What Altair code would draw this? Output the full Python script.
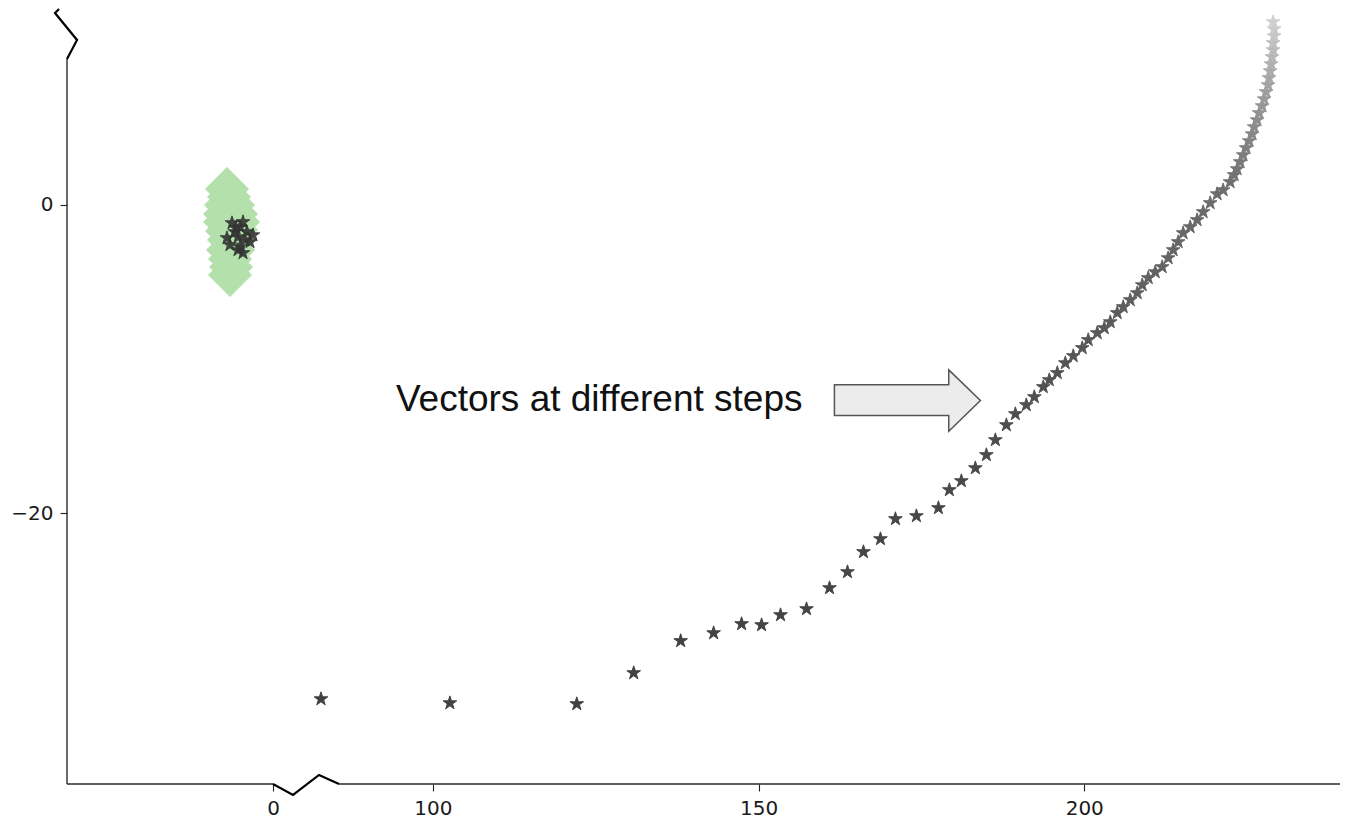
import altair as alt
import pandas as pd

# ---- data (axis units; x axis is broken between ~5 and ~80) ----
step_x = [82.82, 102.61, 122.09, 130.83, 138.04, 143.10, 147.39, 150.46, 153.37, 157.36,
          160.89, 163.65, 166.10, 168.71, 171.01, 174.23, 177.61, 179.29, 181.13, 183.28,
          184.97, 186.35, 188.04, 189.42, 191.10, 192.33, 193.71, 194.63, 195.86, 197.09,
          198.31, 199.69, 200.61, 201.99, 203.07, 203.99, 205.06, 205.98, 207.06, 208.13,
          208.90, 209.82, 210.89, 211.96, 212.88, 213.65, 214.42, 215.18, 216.26, 217.33,
          218.25, 219.33, 220.40, 221.32, 222.39, 223.01, 223.47, 223.93, 224.39, 224.85,
          225.31, 225.77, 226.07, 226.53, 226.84, 227.30, 227.61, 227.91, 228.22, 228.37,
          228.53, 228.68, 228.83, 228.99, 228.99, 229.14, 229.14, 228.99]
step_y = [-32.04, -32.30, -32.36, -30.35, -28.27, -27.76, -27.17, -27.24, -26.59, -26.20,
          -24.84, -23.80, -22.50, -21.66, -20.36, -20.17, -19.65, -18.48, -17.90, -17.06,
          -16.21, -15.24, -14.27, -13.55, -12.97, -12.45, -11.80, -11.35, -10.89, -10.25,
          -9.79, -9.27, -8.75, -8.30, -7.98, -7.59, -7.00, -6.61, -6.16, -5.71,
          -5.19, -4.73, -4.35, -4.02, -3.44, -2.92, -2.40, -1.82, -1.43, -0.97,
          -0.45, 0.13, 0.71, 0.97, 1.49, 1.95, 2.33, 2.79, 3.24, 3.70,
          4.15, 4.60, 5.06, 5.51, 5.97, 6.42, 6.87, 7.33, 7.78, 8.24,
          8.69, 9.14, 9.60, 10.05, 10.51, 10.96, 11.41, 11.87]

cluster_x = [-6.29, -5.06, -3.99, -7.06, -5.37, -3.53, -5.06, -5.37, -4.29, -5.83,
             -4.60, -3.07, -6.60, -4.60, -5.67]
cluster_y = [-1.17, -1.43, -1.75, -2.14, -2.08, -2.40, -2.72, -2.92, -2.27, -1.75,
             -1.10, -1.95, -2.59, -3.11, -1.49]

blob_x = [-7.06, -6.75, -7.21, -6.13, -7.36, -5.67, -7.36, -5.37, -6.44, -7.06,
          -5.67, -6.75, -5.98, -6.90, -6.13, -6.60, -6.44, -6.60]
blob_y = [1.04, 0.52, 0.00, 0.00, -0.58, -0.58, -1.10, -1.10, -1.10, -1.69,
          -1.62, -2.27, -2.27, -2.92, -2.92, -3.50, -4.02, -4.54]

x_ticks = [0, 100, 150, 200]
y_ticks = [0, -20]
annotation = "Vectors at different steps"

# axis geometry (data units)
X_DOMAIN = [-31.60, 4.91, 80.52, 239.26]
Y_DOMAIN = [-37.55, 9.468]

STAR = ("M0,-1 L0.2245,-0.309 L0.9511,-0.309 L0.3633,0.118 L0.5878,0.809 L0,0.382 "
        "L-0.5878,0.809 L-0.3633,0.118 L-0.9511,-0.309 L-0.2245,-0.309 Z")
ARROW = "M-1,-0.215 L0.566,-0.215 L0.566,-0.42 L1,0 L0.566,0.42 L0.566,0.205 L-1,0.205 Z"

steps = pd.DataFrame({"x": step_x, "y": step_y, "step": list(range(1, len(step_x) + 1))})
cluster = pd.DataFrame({"x": cluster_x, "y": cluster_y})
blob = pd.DataFrame({"x": blob_x, "y": blob_y})

xscale = alt.Scale(domain=X_DOMAIN, range=[0, 238, 239, 1273], nice=False, zero=False)
yscale = alt.Scale(domain=Y_DOMAIN, nice=False, zero=False)

common_axis = dict(domain=False, grid=False, title=None, tickSize=7,
                   tickColor="#222", tickWidth=1.1, labelPadding=7, labelFont="DejaVu Sans",
                   labelFontSize=20, labelColor="#1a1a1a", labelFlush=False, labelOverlap=False)
xax = alt.Axis(values=x_ticks, orient="bottom", **common_axis)
yax = alt.Axis(values=y_ticks, orient="left", **common_axis)

def enc(with_axis=False):
    if with_axis:
        return dict(x=alt.X("x:Q", scale=xscale, axis=xax), y=alt.Y("y:Q", scale=yscale, axis=yax))
    return dict(x=alt.X("x:Q", scale=xscale), y=alt.Y("y:Q", scale=yscale))

blob_layer = alt.Chart(blob).mark_point(shape="diamond", filled=True, size=1936,
                                        color="#b3e0ab", opacity=1).encode(**enc(True))

cluster_layer = alt.Chart(cluster).mark_point(shape=STAR, filled=True, size=205,
                                              fill="#333333", stroke="#333333", strokeWidth=1,
                                              opacity=0.9).encode(**enc())

star_color = alt.Color("step:Q", legend=None,
                       scale=alt.Scale(domain=[1, 20, 55, 63, 70, 78],
                                       range=["#404040", "#4a4a4a", "#6e6e6e", "#8a8a8a", "#a6a6a6", "#d0d0d0"],
                                       interpolate="rgb"))
steps_layer = alt.Chart(steps).mark_point(shape=STAR, filled=True, size=205, strokeWidth=1,
                                          opacity=1).encode(**enc(), fill=star_color, stroke=star_color)

# axis lines with breaks
axis_df = pd.DataFrame({
    "x": [X_DOMAIN[0], 85.58, X_DOMAIN[0]],
    "x2": [0.0, X_DOMAIN[-1], X_DOMAIN[0]],
    "y": [Y_DOMAIN[0], Y_DOMAIN[0], Y_DOMAIN[0]],
    "y2": [Y_DOMAIN[0], Y_DOMAIN[0], Y_DOMAIN[1]],
})
axis_layer = alt.Chart(axis_df).mark_rule(color="#2a2a2a", strokeWidth=1.4).encode(
    **enc(), x2="x2:Q", y2="y2:Q")

zig_df = pd.DataFrame({
    "x": [-31.60, -30.06, -33.44, -32.82, 0.0, 3.07, 82.52, 85.58],
    "y": [9.468, 10.70, 12.45, 12.71, -37.55, -38.26, -36.96, -37.55],
    "g": ["top"] * 4 + ["bottom"] * 4,
    "o": [0, 1, 2, 3, 0, 1, 2, 3],
})
zig_layer = alt.Chart(zig_df).mark_line(color="black", strokeWidth=2.2, strokeJoin="miter").encode(
    **enc(), detail="g:N", order="o:Q")

arrow_df = pd.DataFrame({"x": [172.85], "y": [-12.68]})
arrow_layer = alt.Chart(arrow_df).mark_point(shape=ARROW, filled=True, size=21316,
                                             fill="#ececec", stroke="#555555", strokeWidth=1.5,
                                             opacity=1).encode(**enc())

text_df = pd.DataFrame({"x": [94.33], "y": [-12.65], "t": [annotation]})
text_layer = alt.Chart(text_df).mark_text(align="left", baseline="middle", font="Liberation Sans",
                                          fontSize=37, color="#111111").encode(**enc(), text="t:N")

chart = alt.layer(blob_layer, cluster_layer, steps_layer, axis_layer, zig_layer,
                  arrow_layer, text_layer).properties(
    width=1273, height=725, autosize=alt.AutoSizeParams(type="none"),
    padding={"left": 59, "top": 51, "right": 0, "bottom": 34},
    background="white",
).configure_view(stroke=None)

chart.save("out.html", embed_options={"renderer": "svg", "actions": False})
